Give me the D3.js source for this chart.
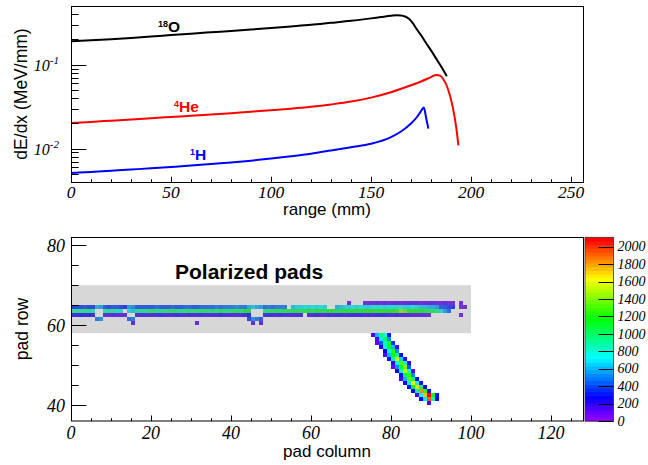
<!DOCTYPE html>
<html>
<head>
<meta charset="utf-8">
<script src="https://cdn.jsdelivr.net/npm/d3@7"></script>
<style>
  body { margin: 0; background: #fff; }
  svg { display: block; }
</style>
</head>
<body>
<svg id="chart" width="648" height="465"></svg>
<script>
// ---------------- data: stopping power vs range ----------------
const oRange  = [0, 10, 20, 30, 40, 50, 60, 70, 80, 90, 100, 110, 120, 130, 140, 150, 155, 160, 163, 165, 167, 169, 171, 173, 175, 177.6, 180, 182.6, 185, 187.9];
const oDedx   = [0.190, 0.195, 0.201, 0.208, 0.216, 0.225, 0.234, 0.243, 0.252, 0.262, 0.273, 0.285, 0.298, 0.315, 0.333, 0.356, 0.369, 0.382, 0.388, 0.386, 0.375, 0.352, 0.310, 0.262, 0.225, 0.180, 0.148, 0.118, 0.096, 0.073];

const heRange = [0, 10, 20, 30, 40, 50, 60, 70, 80, 90, 100, 110, 120, 130, 140, 150, 160, 170, 175, 180, 182.6, 184.5, 186, 188.4, 190.9, 192.6, 193.7];
const heDedx  = [0.0202, 0.0208, 0.0215, 0.0222, 0.0230, 0.0238, 0.0246, 0.0255, 0.0264, 0.0275, 0.0286, 0.0299, 0.0315, 0.0336, 0.0363, 0.0405, 0.0470, 0.0568, 0.0630, 0.0710, 0.0755, 0.0740, 0.0680, 0.0520, 0.0310, 0.0180, 0.0109];

const hRange  = [0, 10, 20, 30, 40, 50, 60, 70, 80, 90, 100, 110, 120, 130, 140, 150, 160, 165, 170, 173, 175, 176.4, 177.6, 178.7];
const hDedx   = [0.00512, 0.00528, 0.00545, 0.00563, 0.00582, 0.00604, 0.00628, 0.00655, 0.00684, 0.00718, 0.0076, 0.0081, 0.0087, 0.0095, 0.0104, 0.0114, 0.0137, 0.0160, 0.0199, 0.0238, 0.0280, 0.0308, 0.0230, 0.0173];

const rangeTicks = [0, 50, 100, 150, 200, 250];
const dedxTicks  = [0.1, 0.01];
const dedxTickExp = ["-1", "-2"];

// ---------------- data: pad hits (charge per pad) ----------------
// beam track along rows 62-64, columns 0..98
const row64 = [330,360,340,380,350,370, 620,580, 390,360,410,380,350, 300, 560,520,
  400,380,420,390,410,430,400,380,420,440,410,400,430,450,420,410,440,460,430,450,480,460,470,500,480,510,490,470,
  600,640,620,580, 450,480,460,500,470,490, 0,
  650,700,680,720,690,740,710,730,700, 0,0,
  620,660,700,680,720,700,740,710,690,730,760,720,700,740,720,760,730,700,680,720,690,660,640,620,600,580,
  420,380,350,300, 0, 120,110];
const row63 = [880,920,900,950,910,870, 0,0, 860,900,880,840,820, 0, 700,650,
  920,950,900,980,1000,960,940,1000,980,1020,990,960,1000,1040,1010,980,1020,1050,1000,1030,990,1060,1020,1000,1040,1080,1050,1100,
  1150,0,0,0, 1000,1050,1020,1080,1040,1060,
  1020,1060,1100,1050,1080,1120,1070,1100,1130,1090,
  1100,1140,1080,1120,1160,1100,1140,1180,1120,1150,1200,1160,1130,1180,1220,1170,1200,1250,1420,1380,1220,1180,1200,1150,1120,1080,1050,1000,
  700,560,450, 0,0,0,0];
const row62 = [250,230,270,240,260,220, 0,0, 160,140,170,150,130, 150, 0,0,
  180,200,170,210,190,180,220,200,190,210,230,200,180,220,210,190,230,200,180,210,190,220,200,180,210,190,200,230,
  280,0,0,0, 200,220,190,210,230,200,180,210,190,170, 0,
  180,200,220,190,210,230,200,220,240,210,230,250,220,240,210,230,200,220,250,230,210,190,220,200,180,170,160,150,140,130,120,
  0,0,0,0,0,0,0, 110,0];
const trackRows = [64, 63, 62];
const trackVals = [row64, row63, row62];

// isolated hits: [column, row, charge]
const looseHits = [
  [69,65,110],
  [73,65,100],[74,65,120],[75,65,110],[76,65,130],[77,65,120],[78,65,140],[79,65,110],[80,65,130],[81,65,150],[82,65,120],[83,65,140],
  [84,65,130],[85,65,160],[86,65,140],[87,65,120],[88,65,150],[89,65,130],[90,65,140],[91,65,120],[92,65,110],[93,65,130],[94,65,120],[95,65,110],
  [97,65,120],
  [6,61,480],[7,61,520],[14,61,430],[15,61,470],[44,61,350],[45,61,520],[46,61,480],[47,61,420],
  [15,60,130],[31,60,140],[45,60,150],[47,60,130]
];

// recoil track: row, first column, charges
const recoilRows  = [57, 56, 55, 54, 53, 52, 51, 50, 49, 48, 47, 46, 45, 44, 43, 42, 41, 40];
const recoilStart = [75, 76, 76, 77, 78, 78, 79, 80, 80, 81, 82, 82, 83, 84, 85, 86, 87, 89];
const recoilVals  = [
  [130, 620, 950, 720, 320],
  [160, 700, 1020, 540],
  [110, 460, 880, 1060, 360],
  [220, 760, 1120, 620, 160],
  [260, 820, 1260, 520],
  [130, 620, 1180, 920, 260],
  [300, 920, 1520, 640, 170],
  [210, 780, 1320, 820, 210],
  [110, 520, 1120, 1420, 460],
  [260, 860, 1480, 720, 160],
  [320, 1020, 1280, 520],
  [160, 620, 1340, 940, 260],
  [220, 820, 1620, 760, 220],
  [310, 1120, 1720, 940, 230],
  [260, 920, 1820, 1240, 320],
  [160, 720, 1760, 2107, 1100, 330],
  [280, 700, 1900, 900, 280],
  [150]
];

const zMax = 2107;
const colTicks = [0, 20, 40, 60, 80, 100, 120];
const rowTicks = [40, 60, 80];
const zTicks = [0, 200, 400, 600, 800, 1000, 1200, 1400, 1600, 1800, 2000];

// ---------------- drawing ----------------
const svg = d3.select("#chart");
const SANS = "'Liberation Sans', Arial, Helvetica, sans-serif";
const SERIF = "'Liberation Serif', 'Times New Roman', serif";

// ===== upper panel =====
const xR = d3.scaleLinear().domain([0, 256]).range([71, 583]);
const yR = d3.scaleLog().domain([0.004, 0.5]).range([182, 6]);
const up = svg.append("g");

const line = d3.line().x(d => xR(d[0])).y(d => yR(d[1])).curve(d3.curveMonotoneX);
[[oRange, oDedx, "#000"], [heRange, heDedx, "#ff0000"], [hRange, hDedx, "#0000ff"]].forEach(([r, v, c]) => {
  up.append("path")
    .datum(r.map((x, i) => [x, v[i]]))
    .attr("d", line).attr("fill", "none")
    .attr("stroke", c).attr("stroke-width", 2).attr("stroke-linejoin", "round");
});

// x ticks (major every 50, minor every 10)
for (let t = 0; t <= 256; t += 10) {
  const len = t % 50 === 0 ? 5.3 : 2.7;
  up.append("line").attr("x1", Math.round(xR(t)) + 0.5).attr("x2", Math.round(xR(t)) + 0.5)
    .attr("y1", 182).attr("y2", 182 - len).attr("stroke", "#000").attr("stroke-width", 1);
}
// log y ticks
[0.001, 0.01, 0.1].forEach(dec => {
  for (let k = 1; k <= 9; k++) {
    const v = k * dec;
    if (v < 0.004 || v > 0.5) continue;
    const len = k === 1 ? 15.4 : 7.7;
    const y = Math.round(yR(v)) + 0.5;
    up.append("line").attr("x1", 71).attr("x2", 71 + len).attr("y1", y).attr("y2", y)
      .attr("stroke", "#000").attr("stroke-width", 1);
  }
});
up.append("rect").attr("x", 71.5).attr("y", 6.5).attr("width", 512).attr("height", 176)
  .attr("fill", "none").attr("stroke", "#000").attr("stroke-width", 1);

rangeTicks.forEach(t => {
  up.append("text").attr("x", xR(t)).attr("y", 198).attr("text-anchor", "middle")
    .attr("font-family", SERIF).attr("font-style", "italic").attr("font-size", 17.5).text(t);
});
dedxTicks.forEach((v, i) => {
  const tx = up.append("text").attr("x", 59).attr("y", yR(v) + 6.3).attr("text-anchor", "end")
    .attr("font-family", SERIF).attr("font-style", "italic").attr("font-size", 16);
  tx.append("tspan").text("10");
  tx.append("tspan").attr("font-size", 11).attr("dy", -7).text(dedxTickExp[i]);
});

up.append("text").attr("transform", "translate(27,94) rotate(-90)").attr("text-anchor", "middle")
  .attr("font-family", SANS).attr("font-size", 17.5).text("dE/dx (MeV/mm)");
up.append("text").attr("x", 327).attr("y", 214.5).attr("text-anchor", "middle")
  .attr("font-family", SANS).attr("font-size", 17).text("range (mm)");

function isotope(x, y, mass, sym, color) {
  const t = up.append("text").attr("x", x).attr("y", y).attr("fill", color)
    .attr("font-family", SANS).attr("font-weight", "bold").attr("font-size", 15.5);
  t.append("tspan").attr("font-size", 9).attr("dy", -5).text(mass);
  t.append("tspan").attr("dy", 5).text(sym);
}
isotope(158, 31.7, "18", "O", "#000");
isotope(174, 111.5, "4", "He", "#ff0000");
isotope(190, 160, "1", "H", "#0000ff");

// ===== lower panel =====
const xP = d3.scaleLinear().domain([0, 128]).range([71, 583]);
const yP = d3.scaleLinear().domain([36, 82]).range([421, 237.3]);
const low = svg.append("g");

const nCol = 50;
const palette = d3.range(nCol).map(i => d3.hsl(280 - (i + 1) * (280 / nCol), 1, 0.5).formatHex());
const colorOf = v => palette[Math.min(nCol - 1, Math.floor(v / zMax * nCol))];

function pad(c, r, v) {
  if (v <= 0) return;
  low.append("rect")
    .attr("x", xP(c)).attr("y", yP(r + 1))
    .attr("width", xP(c + 1) - xP(c)).attr("height", yP(r) - yP(r + 1))
    .attr("fill", colorOf(v)).attr("shape-rendering", "crispEdges");
}
trackRows.forEach((r, i) => trackVals[i].forEach((v, c) => pad(c, r, v)));
looseHits.forEach(([c, r, v]) => pad(c, r, v));
recoilRows.forEach((r, i) => recoilVals[i].forEach((v, k) => pad(recoilStart[i] + k, r, v)));

// polarized-pad region
low.append("rect").attr("x", xP(0)).attr("y", yP(70))
  .attr("width", xP(100) - xP(0)).attr("height", yP(58) - yP(70))
  .attr("fill", "#8c8c8c").attr("fill-opacity", 0.35);

low.append("text").attr("x", 175).attr("y", 279)
  .attr("font-family", SANS).attr("font-weight", "bold").attr("font-size", 21).text("Polarized pads");

// ticks
for (let t = 0; t <= 128; t += 5) {
  const len = t % 20 === 0 ? 5.5 : 2.8;
  const x = Math.round(xP(t)) + 0.5;
  low.append("line").attr("x1", x).attr("x2", x).attr("y1", 421).attr("y2", 421 - len)
    .attr("stroke", "#000").attr("stroke-width", 1);
}
for (let t = 40; t <= 82; t += 5) {
  const len = t % 20 === 0 ? 15.4 : 7.7;
  const y = Math.round(yP(t)) + 0.5;
  low.append("line").attr("x1", 71).attr("x2", 71 + len).attr("y1", y).attr("y2", y)
    .attr("stroke", "#000").attr("stroke-width", 1);
}
low.append("rect").attr("x", 71.5).attr("y", 237.5).attr("width", 512).attr("height", 183.5)
  .attr("fill", "none").attr("stroke", "#000").attr("stroke-width", 1);

colTicks.forEach(t => {
  low.append("text").attr("x", xP(t)).attr("y", 438.5).attr("text-anchor", "middle")
    .attr("font-family", SERIF).attr("font-style", "italic").attr("font-size", 18).text(t);
});
rowTicks.forEach(t => {
  low.append("text").attr("x", 65).attr("y", yP(t) + 6.5).attr("text-anchor", "end")
    .attr("font-family", SERIF).attr("font-style", "italic").attr("font-size", 18).text(t);
});
low.append("text").attr("transform", "translate(28,329) rotate(-90)").attr("text-anchor", "middle")
  .attr("font-family", SANS).attr("font-size", 17.5).text("pad row");
low.append("text").attr("x", 327).attr("y", 457).attr("text-anchor", "middle")
  .attr("font-family", SANS).attr("font-size", 17).text("pad column");

// colour scale
const zS = d3.scaleLinear().domain([0, zMax]).range([421, 237.3]);
palette.forEach((col, i) => {
  const z0 = i * zMax / nCol, z1 = (i + 1) * zMax / nCol;
  low.append("rect").attr("x", 585).attr("y", zS(z1)).attr("width", 28.5)
    .attr("height", zS(z0) - zS(z1) + 0.6).attr("fill", col);
});
low.append("rect").attr("x", 585).attr("y", 237.3).attr("width", 28.5).attr("height", 183.7)
  .attr("fill", "none").attr("stroke", "#333").attr("stroke-width", 0.8);
zTicks.forEach(t => {
  const y = Math.round(zS(t)) + 0.5;
  low.append("line").attr("x1", 598.5).attr("x2", 613.5).attr("y1", y).attr("y2", y)
    .attr("stroke", "#000").attr("stroke-width", 1);
  low.append("text").attr("x", 617.5).attr("y", zS(t) + 4.8)
    .attr("font-family", SERIF).attr("font-style", "italic").attr("font-size", 14).text(t);
});
</script>
</body>
</html>
